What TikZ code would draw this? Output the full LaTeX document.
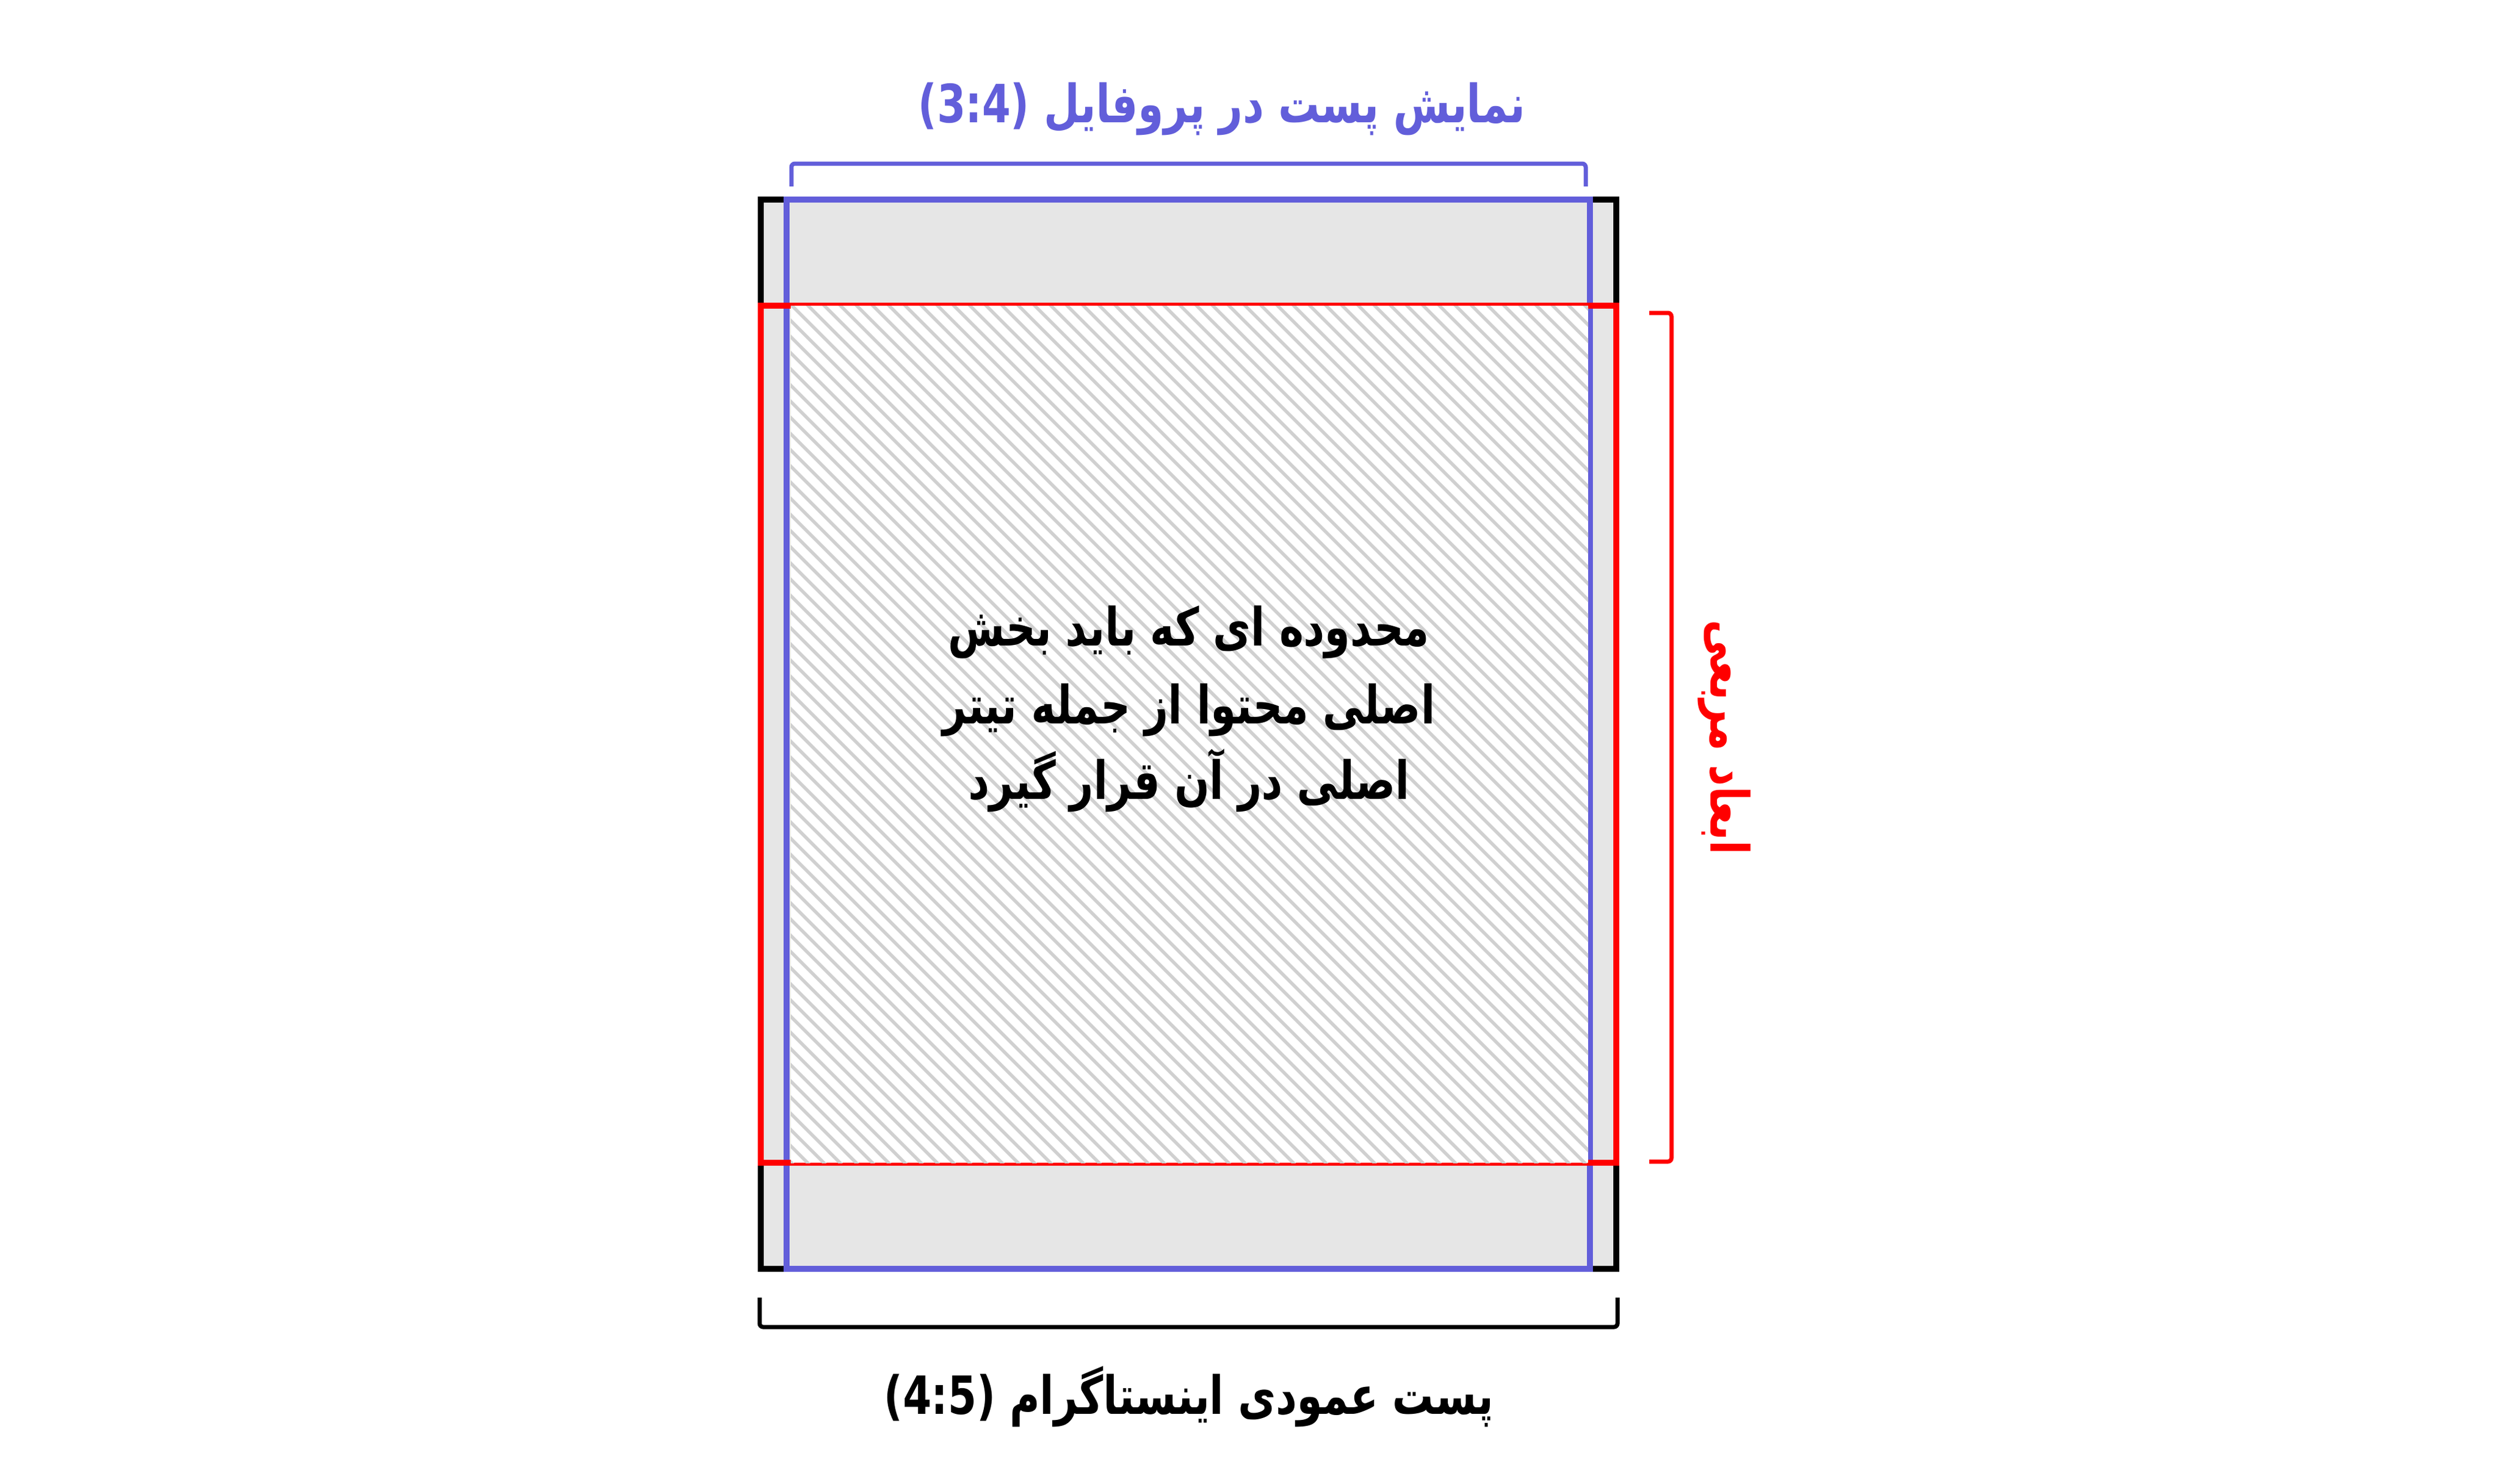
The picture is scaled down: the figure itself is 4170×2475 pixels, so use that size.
\documentclass[tikz,border=0pt]{standalone}
\usepackage{fontspec}
\usepackage{graphicx}
\newfontfamily\fa[Script=Arabic]{DejaVu Sans}
\TeXXeTstate=1
\definecolor{pblue}{RGB}{98,94,218}
\definecolor{pred}{RGB}{255,0,0}
\definecolor{pgray}{RGB}{230,230,230}
\definecolor{hgray}{RGB}{208,208,208}
\newcommand{\narrowtxt}[1]{\scalebox{0.78}[1]{#1}}
\tikzset{
  frame/.style={line width=0.1cm},
  brack/.style={line width=0.07cm, rounded corners=0.06cm},
  hatchline/.style={hgray, line width=0.055cm},
  label/.style={font=\fa\bfseries\fontsize{25}{30}\selectfont, inner sep=0pt},
}
\begin{document}
\begin{tikzpicture}[x=0.01cm,y=-0.01cm]
\useasboundingbox (0,0) rectangle (4170,2475);
% coordinates
\coordinate (bl1) at (1269,333);
\coordinate (bl2) at (2696,2117);
\coordinate (bu1) at (1312,333);
\coordinate (bu2) at (2652,2117);
\coordinate (rd1) at (1269,510);
\coordinate (rd2) at (2696,1940);
% gray background
\fill[pgray] (bl1) rectangle (bl2);
\draw[frame, black] (bl1) rectangle (bl2);
\draw[frame, pblue] (bu1) rectangle (bu2);
\draw[frame, pred] (rd1) rectangle (rd2);
% hatched area
\begin{scope}
  \clip (1319,510) rectangle (2649,1940);
  \fill[white] (1319,510) rectangle (2649,1940);
  \foreach \i in {-120,-93,...,2660} {
    \draw[hatchline] (\i,500) -- ++(1460,1460);
  }
\end{scope}
% brackets
\draw[brack, pblue] (1320,311) -- (1320,273) -- (2645,273) -- (2645,311);
\draw[brack, black] (1267,2165) -- (1267,2214) -- (2698,2214) -- (2698,2165);
\draw[brack, pred] (2751,522) -- (2788,522) -- (2788,1938) -- (2751,1938);
% texts
\node[label, text=pblue] (top) at (2038,182) {\narrowtxt{\beginR نمایش پست در پروفایل \beginL(3:4)\endL\endR}};
\node[label, text=black] (bottom) at (1983,2330) {\narrowtxt{\beginR پست عمودی اینستاگرام \beginL(4:5)\endL\endR}};
\node[label, text=pred, rotate=-90] (side) at (2876,1230) {\narrowtxt{\beginR ابعاد مربعی\endR}};
\node[label, text=black, anchor=base] (c1) at (1983,1077) {\narrowtxt{\beginR محدوده ای که باید بخش\endR}};
\node[label, text=black, anchor=base] (c2) at (1983,1207) {\narrowtxt{\beginR اصلی محتوا از جمله تیتر\endR}};
\node[label, text=black, anchor=base] (c3) at (1983,1333) {\narrowtxt{\beginR اصلی در آن قرار گیرد\endR}};
\end{tikzpicture}
\end{document}
